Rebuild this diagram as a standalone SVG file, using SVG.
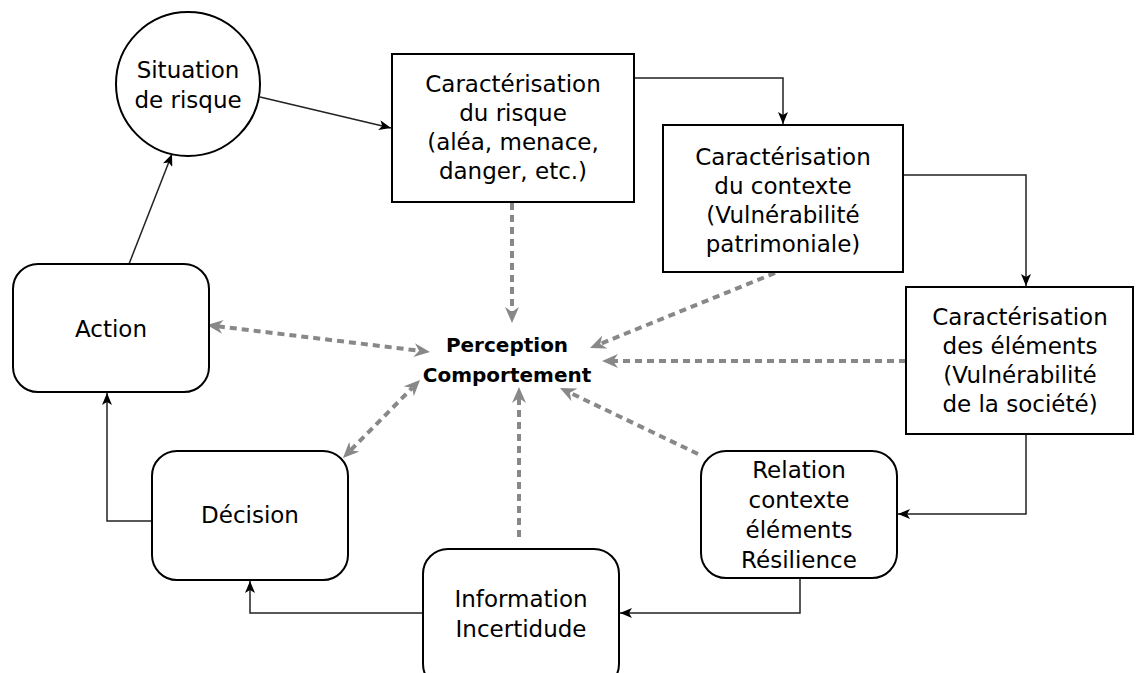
<svg xmlns="http://www.w3.org/2000/svg" width="1139" height="673" viewBox="0 0 1139 673">
<style>
.box{fill:#fff;stroke:#000;stroke-width:2}
.t{font-family:"DejaVu Sans","Liberation Sans",sans-serif;font-size:23px;fill:#000;text-anchor:middle}
.b{font-weight:bold;font-size:20px}
.c{fill:none;stroke:#222;stroke-width:1.5}
.d{fill:none;stroke:#888;stroke-width:4;stroke-dasharray:7 5}
</style>
<defs>
<marker id="ab" viewBox="0 0 12 10" refX="12" refY="5" markerWidth="12" markerHeight="10" markerUnits="userSpaceOnUse" orient="auto"><path d="M0,0 L12,5 L0,10 L3,5 z" fill="#000"/></marker>
<marker id="ag" viewBox="0 0 16 14" refX="5" refY="7" markerWidth="16" markerHeight="14" markerUnits="userSpaceOnUse" orient="auto-start-reverse"><path d="M0,0 L16,7 L0,14 L5,7 z" fill="#888"/></marker>
</defs>
<g id="connectors">
<path class="c" d="M260,97 L391,128" marker-end="url(#ab)"/>
<path class="c" d="M634,78 H783 V124" marker-end="url(#ab)"/>
<path class="c" d="M903,175 H1026 V286" marker-end="url(#ab)"/>
<path class="c" d="M1026,434 V514 H898" marker-end="url(#ab)"/>
<path class="c" d="M800,578 V613 H620" marker-end="url(#ab)"/>
<path class="c" d="M423,613 H250 V581" marker-end="url(#ab)"/>
<path class="c" d="M152,521 H107 V393" marker-end="url(#ab)"/>
<path class="c" d="M129,264 L172,154" marker-end="url(#ab)"/>
<path class="d" d="M512,203 L512,312" marker-end="url(#ag)"/>
<path class="d" d="M775,273 L600.2,343.9" marker-end="url(#ag)"/>
<path class="d" d="M906,361 L613,361" marker-end="url(#ag)"/>
<path class="d" d="M698,454 L569.9,392.7" marker-end="url(#ag)"/>
<path class="d" d="M519,537 L519,398" marker-end="url(#ag)"/>
<path class="d" d="M350.7,450.2 L412.3,387.8" marker-start="url(#ag)" marker-end="url(#ag)"/>
<path class="d" d="M217.9,326.3 L419.1,350.7" marker-start="url(#ag)" marker-end="url(#ag)"/>
</g>
<g id="situation">
<circle class="box" cx="188" cy="84" r="72"/>
<text class="t" x="188" y="78">Situation</text>
<text class="t" x="188" y="108">de risque</text>
</g>
<g id="carac-risque">
<rect class="box" x="392" y="54" width="242" height="148"/>
<text class="t" x="513" y="92">Caractérisation</text>
<text class="t" x="513" y="121">du risque</text>
<text class="t" x="513" y="150">(aléa, menace,</text>
<text class="t" x="513" y="179">danger, etc.)</text>
</g>
<g id="carac-contexte">
<rect class="box" x="663" y="125" width="240" height="147"/>
<text class="t" x="783" y="165">Caractérisation</text>
<text class="t" x="783" y="194">du contexte</text>
<text class="t" x="783" y="223">(Vulnérabilité</text>
<text class="t" x="783" y="252">patrimoniale)</text>
</g>
<g id="carac-elements">
<rect class="box" x="906" y="287" width="227" height="147"/>
<text class="t" x="1020" y="325">Caractérisation</text>
<text class="t" x="1020" y="354">des éléments</text>
<text class="t" x="1020" y="383">(Vulnérabilité</text>
<text class="t" x="1020" y="412">de la société)</text>
</g>
<g id="relation">
<rect class="box" x="701" y="451" width="196" height="127" rx="25"/>
<text class="t" x="799" y="478">Relation</text>
<text class="t" x="799" y="508">contexte</text>
<text class="t" x="799" y="538">éléments</text>
<text class="t" x="799" y="568">Résilience</text>
</g>
<g id="information">
<rect class="box" x="423" y="549" width="196" height="140" rx="25"/>
<text class="t" x="521" y="607">Information</text>
<text class="t" x="521" y="637">Incertidude</text>
</g>
<g id="decision">
<rect class="box" x="152" y="451" width="196" height="129" rx="25"/>
<text class="t" x="250" y="523">Décision</text>
</g>
<g id="action">
<rect class="box" x="13" y="264" width="196" height="128" rx="25"/>
<text class="t" x="111" y="337">Action</text>
</g>
<g id="perception">
<text class="t b" x="507" y="352">Perception</text>
<text class="t b" x="507" y="382">Comportement</text>
</g>
</svg>
